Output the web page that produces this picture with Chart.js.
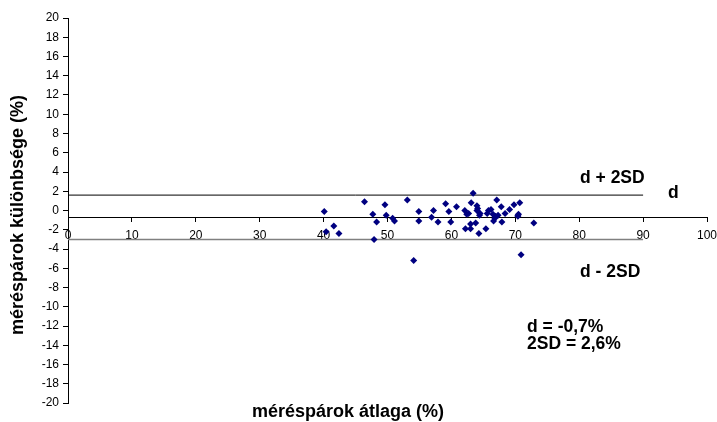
<!DOCTYPE html>
<html>
<head>
<meta charset="utf-8">
<script src="https://cdn.jsdelivr.net/npm/chart.js@4/dist/chart.umd.min.js"></script>
<style>
  body { margin: 0; background: #fff; }
  #wrap { width: 717px; height: 422px; }
</style>
</head>
<body>
<div id="wrap"><canvas id="chart" width="717" height="422"></canvas></div>
<script>
// Bland-Altman data: average of pairs (x) and difference (y)
const avgValues = [
  40.1, 41.6, 42.4, 40.4, 46.4, 47.7, 48.3, 47.9, 49.6, 49.8,
  50.8, 51.1, 53.1, 54.1, 54.9, 54.9, 56.9, 57.2, 57.9, 59.1,
  59.6, 59.9, 60.8, 62.1, 62.4, 62.2, 62.7, 63.0, 63.0, 63.1,
  63.4, 63.8, 64.0, 64.0, 64.1, 64.3, 64.4, 64.5, 65.4, 65.6,
  65.8, 66.2, 66.5, 66.6, 66.8, 67.1, 66.9, 67.3, 67.8, 67.9,
  68.4, 69.1, 69.8, 70.4, 70.5, 70.7, 70.4, 70.9, 72.9
];
const diffValues = [
  -0.1, -1.6, -2.4, -2.2, 0.9, -0.4, -1.2, -3.0, 0.6, -0.5,
  -0.8, -1.1, 1.1, -5.2, -0.1, -1.1, -0.7, 0.0, -1.2, 0.7,
  -0.1, -1.2, 0.4, 0.0, -0.4, -1.9, -0.3, -1.9, -1.4, 0.8,
  1.8, -1.3, 0.5, 0.0, 0.2, -2.4, -0.5, -0.3, -1.9, -0.3,
  0.0, 0.1, -0.4, -1.1, -0.8, 1.1, -0.6, -0.5, 0.4, -1.2,
  -0.3, 0.1, 0.6, -0.5, -0.4, 0.8, -0.6, -4.6, -1.3
];

// Mean difference and limits of agreement
const meanDiff = -0.7;
const upperLimit = 1.6;
const lowerLimit = -3.0;
const limitEnd = 90;

const fontFamily = '"Liberation Sans", Arial, sans-serif';

// Fixed texts: axis titles and labels next to the lines
const textPlugin = {
  id: 'texts',
  afterDraw(chart) {
    const ctx = chart.ctx;
    ctx.save();
    ctx.fillStyle = '#000';
    ctx.textBaseline = 'middle';

    ctx.font = 'bold 17.5px ' + fontFamily;
    ctx.textAlign = 'left';
    ctx.fillText('d + 2SD', 580, 178);
    ctx.fillText('d', 668, 193);
    ctx.fillText('d - 2SD', 580, 272);
    ctx.fillText('d = -0,7%', 527, 327);
    ctx.fillText('2SD = 2,6%', 527, 344);

    ctx.font = 'bold 18px ' + fontFamily;
    ctx.textAlign = 'center';
    ctx.fillText('méréspárok átlaga (%)', 348, 412);

    ctx.translate(18, 215);
    ctx.rotate(-Math.PI / 2);
    ctx.fillText('méréspárok különbsége (%)', 0, 0);
    ctx.restore();
  }
};

const points = avgValues.map((x, i) => ({ x: x, y: diffValues[i] }));

new Chart(document.getElementById('chart'), {
  type: 'scatter',
  data: {
    datasets: [
      {
        data: points,
        pointStyle: 'rectRot',
        pointRadius: 3.5,
        backgroundColor: '#000080',
        borderColor: '#000080',
        borderWidth: 0
      },
      {
        type: 'line',
        data: [{ x: 0, y: upperLimit }, { x: limitEnd, y: upperLimit }],
        borderColor: '#000',
        borderWidth: 1,
        pointRadius: 0
      },
      {
        type: 'line',
        data: [{ x: 0, y: lowerLimit }, { x: limitEnd, y: lowerLimit }],
        borderColor: '#808080',
        borderWidth: 1.5,
        pointRadius: 0
      }
    ]
  },
  options: {
    responsive: false,
    animation: false,
    layout: { padding: { top: 18, right: 10, bottom: 19, left: 0 } },
    plugins: {
      legend: { display: false },
      tooltip: { enabled: false }
    },
    scales: {
      x: {
        type: 'linear',
        position: { y: meanDiff },
        min: 0,
        max: 100,
        ticks: {
          stepSize: 10,
          color: '#000',
          padding: 7,
          font: { family: fontFamily, size: 12 }
        },
        grid: { drawOnChartArea: false, drawTicks: true, tickLength: 4, color: '#000' },
        border: { display: true, color: '#000' },
        // labels at the ends may overflow, like in the original
        afterFit(scale) { scale.paddingLeft = 0; scale.paddingRight = 0; }
      },
      y: {
        min: -20,
        max: 20,
        ticks: {
          stepSize: 2,
          color: '#000',
          padding: 4,
          font: { family: fontFamily, size: 12 }
        },
        grid: { drawOnChartArea: false, drawTicks: true, tickLength: 5, color: '#000' },
        border: { display: true, color: '#000' },
        afterFit(scale) { scale.width = 68; }
      }
    }
  },
  plugins: [textPlugin]
});
</script>
</body>
</html>
